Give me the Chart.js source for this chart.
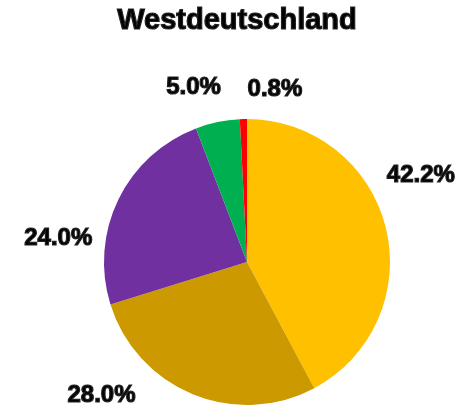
<!DOCTYPE html>
<html>
<head>
<meta charset="utf-8">
<script src="https://cdn.jsdelivr.net/npm/chart.js@4/dist/chart.umd.min.js"></script>
<style>
  html, body { margin: 0; padding: 0; background: #fff; }
  #wrap { width: 467px; height: 409px; }
</style>
</head>
<body>
<div id="wrap"><canvas id="chart" width="467" height="409"></canvas></div>
<script>
const title      = "Westdeutschland"
const categories = ["A", "B", "C", "D", "E"]
const shares     = [42.2, 28.0, 24.0, 5.0, 0.8]
const colors     = ["#FFC000", "#CC9900", "#7030A0", "#00B050", "#FF0000"]

// where each percentage sits: angle (deg, clockwise from top) and distance as multiple of radius
const labelSpots = [
  { angle: 63.4,  dist: 1.36 },
  { angle: 227.5, dist: 1.38 },
  { angle: 277.0, dist: 1.33 },
  { angle: 343.0, dist: 1.28 },
  { angle: 9.2,   dist: 1.22 }
]

const pieText = {
  id: "pieText",
  afterDraw(chart) {
    const ctx = chart.ctx
    const arcs = chart.getDatasetMeta(0).data
    if (!arcs.length) return
    const cx = arcs[0].x, cy = arcs[0].y, r = arcs[0].outerRadius

    ctx.save()
    ctx.fillStyle = "#000"
    ctx.strokeStyle = "#222"
    ctx.lineWidth = 1.2
    ctx.textAlign = "center"
    ctx.textBaseline = "middle"

    ctx.font = "bold 29px 'Liberation Sans', Arial, sans-serif"
    ctx.fillText(title, 237, 21)
    ctx.strokeText(title, 237, 21)

    ctx.font = "bold 24px 'Liberation Sans', Arial, sans-serif"
    shares.forEach((v, i) => {
      const spot = labelSpots[i]
      const a = spot.angle * Math.PI / 180
      const x = cx + Math.sin(a) * r * spot.dist
      const y = cy - Math.cos(a) * r * spot.dist
      const txt = v.toFixed(1) + "%"
      ctx.fillText(txt, x, y)
      ctx.strokeText(txt, x, y)
    })
    ctx.restore()
  }
}

new Chart(document.getElementById("chart"), {
  type: "pie",
  data: {
    labels: categories,
    datasets: [{
      data: shares,
      backgroundColor: colors,
      borderWidth: 0
    }]
  },
  options: {
    responsive: false,
    animation: false,
    rotation: 0,
    layout: { padding: { top: 119, bottom: 4, left: 100, right: 73 } },
    plugins: {
      legend:  { display: false },
      tooltip: { enabled: false },
      title:   { display: false }
    }
  },
  plugins: [pieText]
})
</script>
</body>
</html>
